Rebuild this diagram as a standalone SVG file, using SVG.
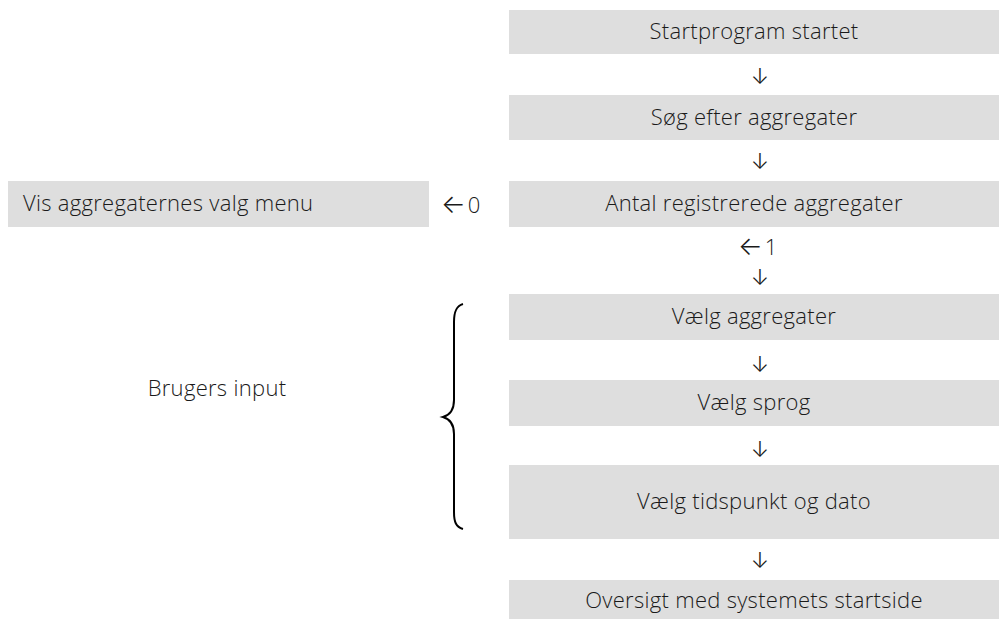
<svg xmlns="http://www.w3.org/2000/svg" width="999" height="619" viewBox="0 0 999 619">
<style>
.box{fill:#dedede;}
.t{font-family:"Open Sans","DejaVu Sans",sans-serif;font-weight:300;font-size:22px;letter-spacing:0.3px;fill:#1a1a1a;}
.c{text-anchor:middle;}
.a{font-family:Inter,"DejaVu Sans",sans-serif;font-weight:300;font-size:22px;fill:#1a1a1a;text-anchor:middle;}
.l{font-family:Inter,"DejaVu Sans",sans-serif;font-weight:300;font-size:26px;fill:#1a1a1a;}
.brace{fill:none;stroke:#000;stroke-width:2;}
</style>
<rect width="999" height="619" fill="#fff"/>
<g id="n1"><rect class="box" x="509" y="10" width="490" height="44"/><text class="t c" x="754" y="39">Startprogram startet</text></g>
<g id="n2"><rect class="box" x="509" y="95" width="490" height="45"/><text class="t c" x="754" y="125">Søg efter aggregater</text></g>
<g id="n3"><rect class="box" x="509" y="181" width="490" height="46"/><text class="t c" x="754" y="211">Antal registrerede aggregater</text></g>
<g id="n0"><rect class="box" x="8" y="181" width="421" height="46"/><text class="t" x="23" y="211">Vis aggregaternes valg menu</text></g>
<g id="n4"><rect class="box" x="509" y="294" width="490" height="46"/><text class="t c" x="754" y="324">Vælg aggregater</text></g>
<g id="n5"><rect class="box" x="509" y="380" width="490" height="46"/><text class="t c" x="754" y="410">Vælg sprog</text></g>
<g id="n6"><rect class="box" x="509" y="465" width="490" height="74"/><text class="t c" x="754" y="509">Vælg tidspunkt og dato</text></g>
<g id="n7"><rect class="box" x="509" y="580" width="490" height="39"/><text class="t c" x="754" y="608">Oversigt med systemets startside</text></g>
<g id="brugers"><text class="t c" x="217" y="396">Brugers input</text>
<path class="brace" d="M463,304 C456,306 454,312 454,322 L454,400 C454,410 450,415 443,417 C450,419 454,424 454,434 L454,512 C454,522 456,527 463,529"/></g>
<g id="connectors">
<text class="a" x="760" y="84">↓</text>
<text class="a" x="760" y="169">↓</text>
<text x="441" y="213"><tspan class="l">←</tspan><tspan class="t" dx="2">0</tspan></text>
<text x="738" y="255"><tspan class="l">←</tspan><tspan class="t" dx="2">1</tspan></text>
<text class="a" x="760" y="285">↓</text>
<text class="a" x="760" y="372">↓</text>
<text class="a" x="760" y="457">↓</text>
<text class="a" x="760" y="568">↓</text>
</g>
</svg>
